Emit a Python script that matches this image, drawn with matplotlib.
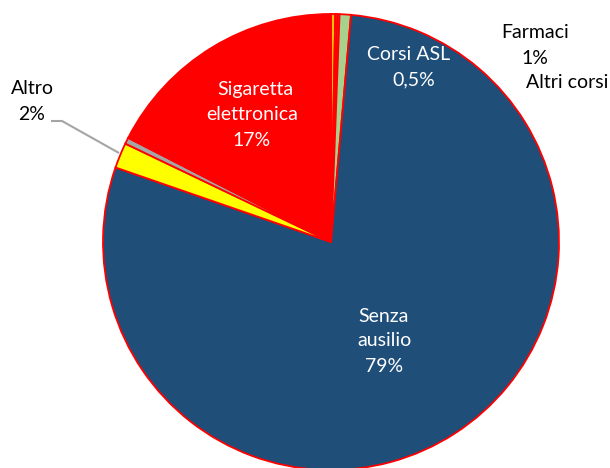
import matplotlib
matplotlib.use("Agg")
import matplotlib.pyplot as plt

# Data (clockwise from 12 o'clock)
categories = ["Altri corsi", "Varie", "Corsi ASL", "Farmaci", "Senza ausilio",
              "Altro", "Nd", "Sigaretta elettronica"]
values = [0.3, 0.15, 0.15, 0.8, 78.9, 1.8, 0.45, 17.45]
colors = ["#FFC000", "#E46C6C", "#8E86AE", "#A9D18E", "#1F4E79",
          "#FFFF00", "#A5A5A5", "#FF0000"]

W, H = 610, 468
CX, CY, R = 331, 242, 228

fig = plt.figure(figsize=(W / 100, H / 100), dpi=100)
ax = fig.add_axes([0, 0, 1, 1])
ax.pie(values, colors=colors, startangle=90, counterclock=False, radius=1,
       wedgeprops=dict(edgecolor="#FF0000", linewidth=1.3))
ax.set_xlim(-CX / R, (W - CX) / R)
ax.set_ylim(-(H - CY) / R, CY / R)
ax.set_aspect("auto")
ax.axis("off")

FONT = "Lato"
FS = 14


def ptext(px, py, s, color="black", ha="center", va="center", **kw):
    fig.text(px / W, 1 - py / H, s, color=color, ha=ha, va=va,
             fontsize=FS, family=FONT, **kw)


def pd(px, py):
    return ((px - CX) / R, (CY - py) / R)


# Labels
ptext(255, 89, "Sigaretta", color="white")
ptext(252, 115, "elettronica", color="white")
ptext(252, 140, "17%", color="white")

ptext(384, 316, "Senza", color="white")
ptext(384, 341, "ausilio", color="white")
ptext(384, 367, "79%", color="white")

ptext(409, 55, "Corsi ASL", color="white")
ptext(414, 80, "0,5%", color="white")

ptext(535, 33, "Farmaci")
ptext(535, 58, "1%")

ptext(526, 83, "Altri corsi", ha="left")

ptext(32, 89, "Altro")
ptext(32, 115, "2%")

# Leader line for "Altro"
xs, ys = zip(pd(51, 121), pd(62, 121), pd(119, 153))
ax.plot(xs, ys, color="#A5A5A5", linewidth=1.5, solid_capstyle="butt")

# Title (cut off at top of figure, only descenders visible)
fig.text(434 / W, 1 + 3 / H, "(in parte)", color="#1F4E79", ha="center",
         va="baseline", fontsize=FS, family=FONT)

fig.savefig("out.png", dpi=100)
